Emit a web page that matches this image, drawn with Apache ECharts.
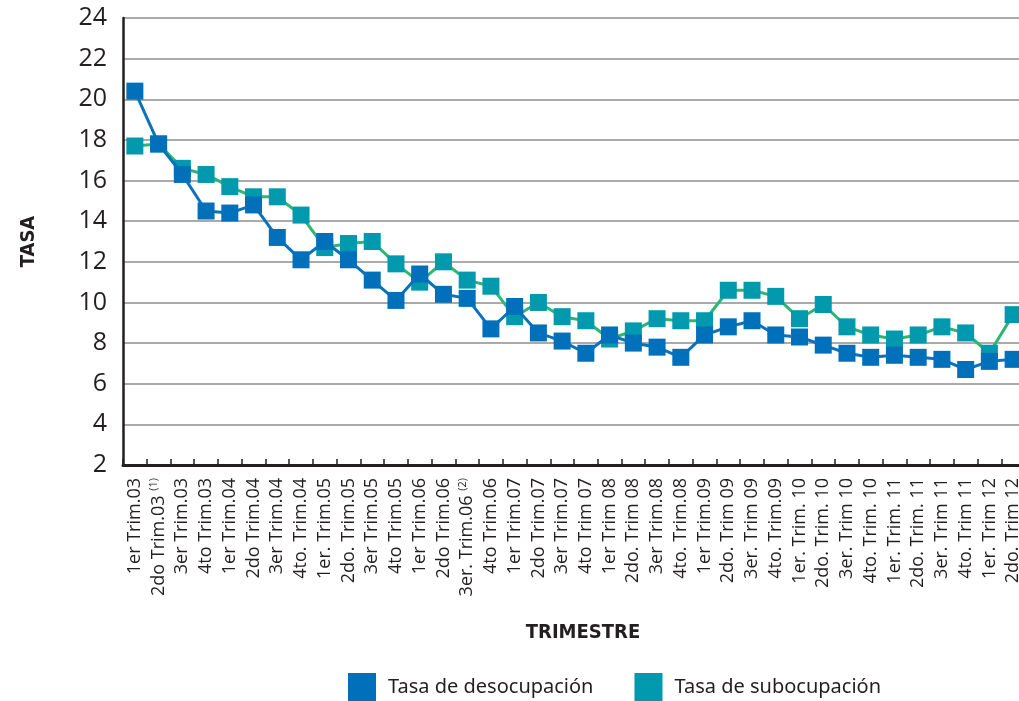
<!DOCTYPE html>
<html>
<head>
<meta charset="utf-8">
<script src="https://cdn.jsdelivr.net/npm/echarts@6/dist/echarts.min.js"></script>
<style>
  html, body { margin: 0; padding: 0; background: #fff; overflow: hidden; }
  #chart { width: 1030px; height: 701px; }
</style>
</head>
<body>
<div id="chart"></div>
<script>
const categories = [
  '1er Trim.03', '2do Trim.03 {sup|(1)}', '3er Trim.03', '4to Trim.03',
  '1er Trim.04', '2do Trim.04', '3er Trim.04', '4to. Trim.04',
  '1er. Trim.05', '2do. Trim.05', '3er Trim.05', '4to Trim.05',
  '1er Trim.06', '2do Trim.06', '3er. Trim.06 {sup|(2)}', '4to Trim.06',
  '1er Trim.07', '2do Trim.07', '3er Trim.07', '4to Trim 07',
  '1er Trim 08', '2do. Trim 08', '3er Trim.08', '4to. Trim.08',
  '1er Trim.09', '2do. Trim 09', '3er. Trim 09', '4to. Trim.09',
  '1er. Trim. 10', '2do. Trim. 10', '3er. Trim 10', '4to. Trim. 10',
  '1er. Trim. 11', '2do. Trim. 11', '3er. Trim 11', '4to. Trim 11',
  '1er. Trim 12', '2do. Trim 12'
];

const desocupacion = [
  20.4, 17.8, 16.3, 14.5, 14.4, 14.8, 13.2, 12.1,
  13.0, 12.1, 11.1, 10.1, 11.4, 10.4, 10.2, 8.7,
  9.8, 8.5, 8.1, 7.5, 8.4, 8.0, 7.8, 7.3,
  8.4, 8.8, 9.1, 8.4, 8.3, 7.9, 7.5, 7.3,
  7.4, 7.3, 7.2, 6.7, 7.1, 7.2
];

const subocupacion = [
  17.7, 17.8, 16.6, 16.3, 15.7, 15.2, 15.2, 14.3,
  12.7, 12.9, 13.0, 11.9, 11.0, 12.0, 11.1, 10.8,
  9.3, 10.0, 9.3, 9.1, 8.2, 8.6, 9.2, 9.1,
  9.1, 10.6, 10.6, 10.3, 9.2, 9.9, 8.8, 8.4,
  8.2, 8.4, 8.8, 8.5, 7.5, 9.4
];

const seriesNames = ['Tasa de desocupación', 'Tasa de subocupación'];
const yMin = 2;
const yMax = 24;
const yStep = 2;

const textColor = '#231f20';
const narrow = '"DejaVu Sans Condensed", "Noto Sans", sans-serif';

// the plot runs a little past the right edge of the window, as in the original
const chart = echarts.init(document.getElementById('chart'));

chart.setOption({
  animation: false,
  grid: {
    left: 123,
    top: 18,
    width: 902,
    height: 447
  },
  legend: {
    left: 343,
    top: 668,
    icon: 'rect',
    itemWidth: 28,
    itemHeight: 29,
    itemGap: 41,
    selectedMode: false,
    data: seriesNames,
    textStyle: {
      color: textColor,
      fontFamily: '"Noto Sans", sans-serif',
      fontSize: 20,
      padding: [0, 0, 0, 7]
    }
  },
  xAxis: {
    type: 'category',
    data: categories,
    boundaryGap: true,
    name: 'TRIMESTRE',
    nameLocation: 'middle',
    nameGap: 158,
    nameTextStyle: {
      color: textColor,
      fontFamily: narrow,
      fontWeight: 'bold',
      fontSize: 20,
      padding: [0, 0, 0, 18]
    },
    axisLine: { lineStyle: { color: textColor, width: 3 } },
    axisTick: { show: true, inside: true, length: 6, lineStyle: { color: textColor, width: 1.5 } },
    axisLabel: {
      interval: 0,
      rotate: 90,
      margin: 13,
      color: textColor,
      fontFamily: '"Open Sans", sans-serif',
      fontSize: 18,
      rich: {
        sup: { fontSize: 11, padding: [0, 0, 9, 0], color: textColor, fontFamily: '"Open Sans", sans-serif' }
      }
    },
    splitLine: { show: false }
  },
  yAxis: {
    type: 'value',
    min: yMin,
    max: yMax,
    interval: yStep,
    name: 'TASA',
    nameLocation: 'middle',
    nameRotate: 90,
    nameGap: 84,
    nameTextStyle: {
      color: textColor,
      fontFamily: narrow,
      fontWeight: 'bold',
      fontSize: 20
    },
    axisLine: { show: true, lineStyle: { color: textColor, width: 2.5 } },
    axisTick: { show: false },
    axisLabel: {
      margin: 16,
      color: textColor,
      fontFamily: '"Open Sans", sans-serif',
      fontSize: 25
    },
    splitLine: { lineStyle: { color: '#aaaaaa', width: 2 } }
  },
  series: [
    {
      name: seriesNames[0],
      type: 'line',
      data: desocupacion,
      z: 3,
      symbol: 'rect',
      symbolSize: 17,
      itemStyle: { color: '#0070ba' },
      lineStyle: { color: '#0a72bc', width: 3 },
      emphasis: { disabled: true }
    },
    {
      name: seriesNames[1],
      type: 'line',
      data: subocupacion,
      z: 2,
      symbol: 'rect',
      symbolSize: 17,
      itemStyle: { color: '#0099ad' },
      lineStyle: { color: '#2db673', width: 3 },
      emphasis: { disabled: true }
    }
  ]
});
</script>
</body>
</html>
